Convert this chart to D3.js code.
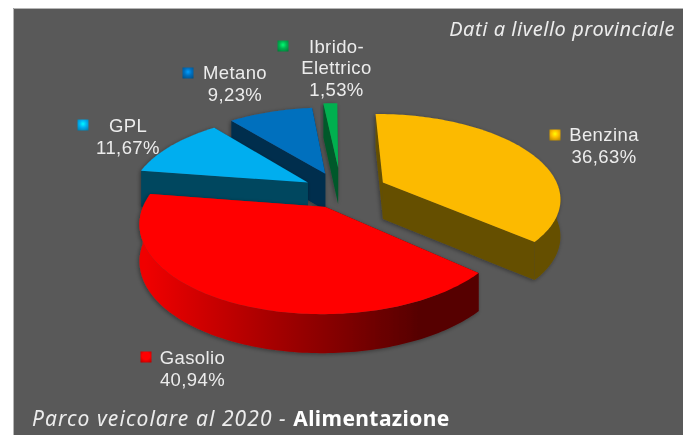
<!DOCTYPE html>
<html><head><meta charset="utf-8">
<script src="https://cdn.jsdelivr.net/npm/d3@7"></script>
<style>html,body{margin:0;padding:0;background:#fff;overflow:hidden}svg{display:block}
text{font-family:"Noto Sans",Tahoma,sans-serif}</style></head>
<body><div id="c"></div>
<script>
const categories = ["Benzina","Gasolio","GPL","Metano","Ibrido-Elettrico"];
const values = [36.63,40.94,11.67,9.23,1.53];
const valueLabels = ["36,63%","40,94%","11,67%","9,23%","1,53%"];
const topColors = ["#fcba00","#ff0000","#00aeef","#006fbe","#00b04f"];
const sideColors = ["#655000","#d00000","#00465f","#002d4d","#00582a"];
const explode = [0.265,0.2,0.22,0.24,0.3];
const labelAnchors = [[604,141],[192.5,364],[128,132],[235,79],[336.5,52.5]];
const markerAnchors = [[555,135],[146,357],[83,125],[188,73],[283,46]];

const W=683,H=435;
const svg=d3.select("#c").append("svg").attr("width",W).attr("height",H);
const defs=svg.append("defs");
const g=defs.append("linearGradient").attr("id","red").attr("gradientUnits","userSpaceOnUse").attr("x1",145).attr("x2",420).attr("y1",0).attr("y2",0);
[[0,"#f00000"],[0.45,"#a80000"],[1,"#560000"]].forEach(s=>g.append("stop").attr("offset",s[0]).attr("stop-color",s[1]));
const f=defs.append("filter").attr("id","sh").attr("x","-20%").attr("y","-20%").attr("width","140%").attr("height","140%");
f.append("feDropShadow").attr("dx",-1).attr("dy",1).attr("stdDeviation",2).attr("flood-color","#000").attr("flood-opacity",.4);
const tb=defs.append("filter").attr("id","tb");
tb.append("feGaussianBlur").attr("stdDeviation",.35);
categories.forEach((c,i)=>{
  const m=defs.append("radialGradient").attr("id","m"+i).attr("cy","40%").attr("r","75%");
  m.append("stop").attr("offset","0%").attr("stop-color",d3.color(topColors[i]).brighter(1));
  m.append("stop").attr("offset","45%").attr("stop-color",topColors[i]);
  m.append("stop").attr("offset","100%").attr("stop-color",d3.color(topColors[i]).darker(1));
});

svg.append("rect").attr("x",13).attr("y",8).attr("width",W-13).attr("height",H-8).attr("fill","#595959");
svg.append("path").attr("d",`M13.5 ${H}V8.5H${W}`).attr("fill","none").attr("stroke","#b5b5b5");

// perspective projection of the pie plane
const cx=341,cy=191.5,p=0.17;
const sx=d3.scaleLinear().domain([-1,1]).range([-177,177]);
const sy=d3.scaleLinear().domain([-1,1]).range([-83,83]);
const depth=d3.scaleLinear().domain([-1,1]).range([34,39]);
const proj=(X,Y)=>{const k=1/(1-Y*p);return [cx+sx(X)*k,cy+sy(Y)*k];};
const pol=(a,r)=>[r*Math.sin(a),-r*Math.cos(a)];
const rot=-0.5*Math.PI/180;
const pie=d3.pie().sort(null).startAngle(rot).endAngle(2*Math.PI+rot);
const line=d3.line();
const arcs=pie(values);

const order=[0,3,4,2,1];
const chart=svg.append("g");
order.forEach(i=>{
  const a=arcs[i], mid=(a.startAngle+a.endAngle)/2;
  const [oX,oY]=pol(mid,explode[i]);
  const pt=(ang,r,z)=>{const [X,Y]=pol(ang,r);const q=proj(oX+X,oY+Y);return [q[0],q[1]+(z?depth(Y):0)];};
  const n=Math.max(4,Math.ceil((a.endAngle-a.startAngle)/0.02));
  const angs=d3.range(n+1).map(j=>a.startAngle+(a.endAngle-a.startAngle)*j/n);
  const s=chart.append("g").attr("filter","url(#sh)");
  const face=ang=>line([pt(ang,0,0),pt(ang,1,0),pt(ang,1,1),pt(ang,0,1)])+"Z";
  const isRed=categories[i]==="Gasolio";
  s.append("path").attr("d",face(a.endAngle)).attr("fill",sideColors[i]);
  s.append("path").attr("d",face(a.startAngle)).attr("fill",isRed?"#5a0000":sideColors[i]);
  const front=angs.filter(t=>Math.cos(t)<=0);
  if(front.length>1){
    const pts=front.map(t=>pt(t,1,0)).concat(front.slice().reverse().map(t=>pt(t,1,1)));
    s.append("path").attr("d",line(pts)+"Z").attr("fill",isRed?"url(#red)":sideColors[i]);
  }
  const top=[pt(0,0,0)].concat(angs.map(t=>pt(t,1,0)));
  s.append("path").attr("d",line(top)+"Z").attr("fill",topColors[i]);
});

const txt=svg.append("g").attr("filter","url(#tb)");
categories.forEach((c,i)=>{
  const m=markerAnchors[i],l=labelAnchors[i];
  svg.append("rect").attr("x",m[0]-5.5).attr("y",m[1]-5.5).attr("width",11).attr("height",11).attr("fill",`url(#m${i})`);
  const lines=c==="Ibrido-Elettrico"?["Ibrido-","Elettrico"]:[c];
  lines.concat(valueLabels[i]).forEach((t,j)=>{
    txt.append("text").attr("x",l[0]).attr("y",l[1]+j*21.5).attr("text-anchor","middle")
      .style("font-family","'Liberation Sans'").attr("font-size",18.5).attr("letter-spacing",.4).attr("fill","#ececec").text(t);
  });
});
txt.append("text").attr("x",675).attr("y",36).attr("text-anchor","end").attr("font-size",20).attr("font-style","italic").attr("fill","#ececec").attr("letter-spacing",.55).text("Dati a livello provinciale");
const b=txt.append("text").attr("x",32).attr("y",426).attr("font-size",21);
b.append("tspan").attr("font-style","italic").attr("fill","#ececec").attr("letter-spacing",1.07).text("Parco veicolare al 2020 - ");
b.append("tspan").attr("font-weight","bold").attr("fill","#fff").attr("letter-spacing",.4).text("Alimentazione");
</script></body></html>
